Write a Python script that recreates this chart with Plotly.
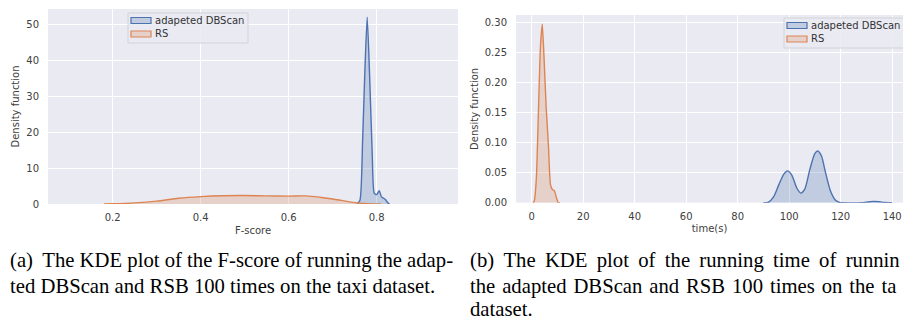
import plotly.graph_objects as go

# ---- Left panel: F-score KDE ----
f_dbscan_x = [0.755, 0.762, 0.768, 0.773, 0.7786, 0.784, 0.790, 0.7946, 0.800, 0.806, 0.811, 0.816, 0.821, 0.825, 0.829]
f_dbscan_y = [0.0, 1.0, 17.0, 36.0, 52.0, 36.0, 14.0, 3.0, 2.6, 3.7, 2.0, 1.6, 1.1, 0.4, 0.0]
f_rs_x = [0.18, 0.2, 0.25, 0.3, 0.35, 0.4, 0.45, 0.5, 0.55, 0.6, 0.64, 0.67, 0.7, 0.72, 0.755, 0.78, 0.81]
f_rs_y = [0.0, 0.05, 0.3, 0.8, 1.6, 2.05, 2.3, 2.35, 2.25, 2.2, 2.25, 1.9, 1.4, 1.0, 0.3, 0.1, 0.0]

# ---- Right panel: running time KDE ----
t_dbscan_x = [90, 92, 94, 96, 98, 99.4, 101, 103, 104.5, 106, 108, 110, 111.1, 112.5, 114, 116, 118, 119.5, 121, 128, 130, 132.5, 135, 137, 140]
t_dbscan_y = [0.0, 0.001, 0.01, 0.03, 0.048, 0.053, 0.046, 0.024, 0.016, 0.022, 0.055, 0.082, 0.086, 0.078, 0.052, 0.02, 0.004, 0.0005, 0.0, 0.0, 0.001, 0.002, 0.0015, 0.0003, 0.0]
t_rs_x = [0.5, 1.0, 1.8, 2.6, 3.4, 4.1, 4.8, 5.6, 6.5, 7.3, 8.0, 8.8, 9.5, 10.3, 11]
t_rs_y = [0.0, 0.003, 0.04, 0.15, 0.26, 0.297, 0.24, 0.16, 0.095, 0.03, 0.022, 0.02, 0.01, 0.0, 0.0]

f_ticks = [0.2, 0.4, 0.6, 0.8]
f_ticktext = ["0.2", "0.4", "0.6", "0.8"]
f_yticks = [0, 10, 20, 30, 40, 50]
t_ticks = [0, 20, 40, 60, 80, 100, 120, 140]
t_yticks = [0.0, 0.05, 0.10, 0.15, 0.20, 0.25, 0.30]
t_yticktext = ["0.00", "0.05", "0.10", "0.15", "0.20", "0.25", "0.30"]
series_names = ["adapeted DBScan", "RS"]

# caption text as visible in the (cropped) reference
cap_labels = ["(a)", "", "(b)", "", ""]
cap_bodies = [
    "The KDE plot of the F-score of running the adap-",
    "ted DBScan and RSB 100 times on the taxi dataset.",
    "The KDE plot of the running time of runnin",
    "the adapted DBScan and RSB 100 times on the ta",
    "dataset.",
]
# word gap used by each line (justified lines get space + thin / hair space)
cap_gaps = [" ", " ", " \u2009", " \u200a", " "]

BLUE = "#4C72B0"
ORANGE = "#DD8452"
BLUE_F = "rgba(76,114,176,0.25)"
ORANGE_F = "rgba(221,132,82,0.25)"
W, H = 903, 322

fig = go.Figure()
fig.add_trace(go.Scatter(x=f_dbscan_x, y=f_dbscan_y, mode="lines", name=series_names[0],
                         line=dict(color=BLUE, width=1.4, shape="spline", smoothing=0.6),
                         fill="tozeroy", fillcolor=BLUE_F, xaxis="x", yaxis="y"))
fig.add_trace(go.Scatter(x=f_rs_x, y=f_rs_y, mode="lines", name=series_names[1],
                         line=dict(color=ORANGE, width=1.4, shape="spline", smoothing=0.8),
                         fill="tozeroy", fillcolor=ORANGE_F, xaxis="x", yaxis="y"))
fig.add_trace(go.Scatter(x=t_dbscan_x, y=t_dbscan_y, mode="lines", name=series_names[0],
                         line=dict(color=BLUE, width=1.4, shape="spline", smoothing=0.8),
                         fill="tozeroy", fillcolor=BLUE_F, xaxis="x2", yaxis="y2"))
fig.add_trace(go.Scatter(x=t_rs_x, y=t_rs_y, mode="lines", name=series_names[1],
                         line=dict(color=ORANGE, width=1.4, shape="spline", smoothing=0.6),
                         fill="tozeroy", fillcolor=ORANGE_F, xaxis="x2", yaxis="y2"))

tickfont = dict(family="DejaVu Sans", size=10, color="#404040")
titlefont = dict(family="DejaVu Sans", size=10, color="#404040")
axcommon = dict(showgrid=True, gridcolor="white", gridwidth=1, zeroline=False, showline=False,
                ticks="", tickfont=tickfont, automargin=False)

fig.update_layout(
    width=W, height=H, margin=dict(l=0, r=0, t=0, b=0, autoexpand=False),
    paper_bgcolor="white", plot_bgcolor="#EAEAF2", showlegend=False,
    xaxis=dict(domain=[48 / W, 458 / W], range=[0.053, 0.985], tickvals=f_ticks,
               ticktext=f_ticktext, anchor="y", ticklabelstandoff=6,
               title=dict(text="F-score", font=titlefont, standoff=4), **axcommon),
    yaxis=dict(domain=[(H - 204) / H, (H - 9) / H], range=[0, 54.3], tickvals=f_yticks,
               anchor="x", ticklabelstandoff=8,
               title=dict(text="Density function", font=titlefont, standoff=4), **axcommon),
    xaxis2=dict(domain=[516 / W, 1.0], range=[-6.1, 144.2], tickvals=t_ticks, anchor="y2",
                ticklabelstandoff=6,
                title=dict(text="time(s)", font=titlefont, standoff=4), **axcommon),
    yaxis2=dict(domain=[(H - 202.7) / H, (H - 15) / H], range=[0, 0.3121], tickvals=t_yticks,
                ticktext=t_yticktext, anchor="x2", ticklabelstandoff=8,
                title=dict(text="Density function", font=titlefont, standoff=4), **axcommon),
)

# ---- legends (drawn as boxes in paper pixels) ----
def pxx(v):
    return v / W

def pxy(v):
    return (H - v) / H

legend_boxes = [(128, 13, 248, 43), (784, 18, 920, 48)]
for (x0, y0, x1, y1) in legend_boxes:
    fig.add_shape(type="rect", xref="paper", yref="paper", x0=pxx(x0), x1=pxx(x1), y0=pxy(y0), y1=pxy(y1),
                  line=dict(color="#d2d2d8", width=1), fillcolor="rgba(234,234,242,0.85)", layer="above")
    for i, (lc, fc) in enumerate([(BLUE, BLUE_F), (ORANGE, ORANGE_F)]):
        cy = y0 + 7.5 + i * 13.5
        fig.add_shape(type="rect", xref="paper", yref="paper", x0=pxx(x0 + 3), x1=pxx(x0 + 23),
                      y0=pxy(cy - 3), y1=pxy(cy + 3), line=dict(color=lc, width=1.2),
                      fillcolor=fc, layer="above")
        fig.add_annotation(text=series_names[i], xref="paper", yref="paper", x=pxx(x0 + 26), y=pxy(cy),
                           xanchor="left", yanchor="middle", showarrow=False, borderpad=0,
                           font=dict(family="DejaVu Sans", size=10, color="#333333"))

cap_font = dict(family="Liberation Serif", size=20.7, color="black")
cap_pos = [(8, 260), (8, 286), (468, 260), (468, 286), (468, 309)]
for label, body, gap, (x, y) in zip(cap_labels, cap_bodies, cap_gaps, cap_pos):
    shown = gap.join(body.split(" "))
    if label:
        shown = label + " \u2009" + shown
    fig.add_annotation(text=shown, xref="paper", yref="paper", x=pxx(x), y=pxy(y),
                       xanchor="left", yanchor="middle", showarrow=False, font=cap_font)

fig.write_html("out.html")
